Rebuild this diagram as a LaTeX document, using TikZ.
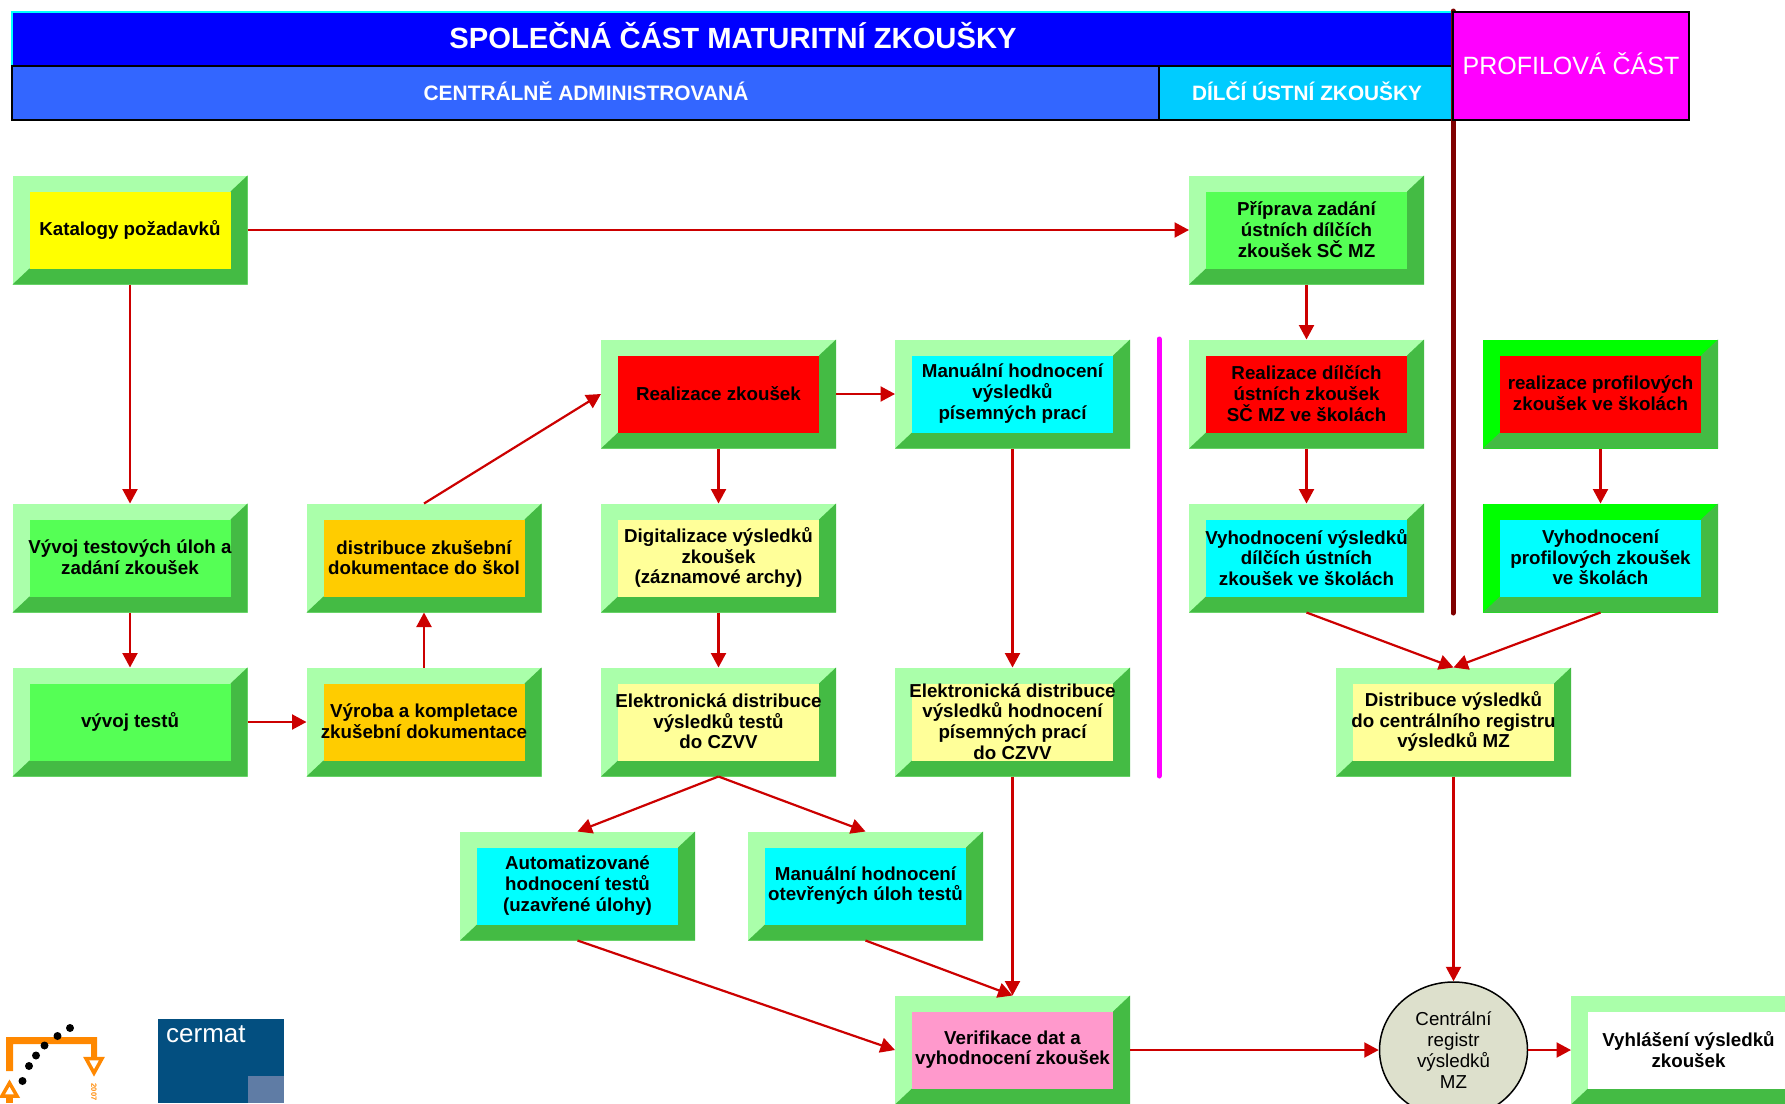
\documentclass[tikz,border=0pt]{standalone}
\usepackage{fontspec}
\setmainfont{Liberation Sans}
\usetikzlibrary{arrows.meta,shapes.geometric}
\definecolor{lite}{RGB}{170,255,170}
\definecolor{brite}{RGB}{0,255,0}
\definecolor{dark}{RGB}{68,187,68}
\definecolor{grn}{RGB}{85,255,85}
\definecolor{org}{RGB}{255,204,0}
\definecolor{pale}{RGB}{255,255,153}
\definecolor{pnk}{RGB}{255,153,204}
\definecolor{arr}{RGB}{204,0,0}
\definecolor{logoorange}{RGB}{255,136,0}
\definecolor{cermatblue}{RGB}{3,79,128}
\definecolor{cermatlite}{RGB}{95,124,165}
\definecolor{pureyellow}{RGB}{255,255,0}
\definecolor{purered}{RGB}{255,0,0}
\definecolor{purecyan}{RGB}{0,255,255}
\definecolor{puremag}{RGB}{255,0,255}
\definecolor{pureblue}{RGB}{0,0,255}
\definecolor{midblue}{RGB}{51,102,255}
\definecolor{skyblue}{RGB}{0,204,255}
\definecolor{maroon}{RGB}{128,0,0}
\definecolor{regfill}{RGB}{221,224,204}
\tikzset{
  boxbase/.style={minimum width=235pt,minimum height=109pt,anchor=north west,inner sep=0pt,outer sep=0pt},
  boxtext/.style={align=center,inner sep=0pt,font=\fontsize{18.75}{20.7}\selectfont\bfseries},
  link/.style={draw=arr,line width=2.2pt,-{Triangle[length=14.5pt,width=15pt]}},
}
% [top-left bevel colour]{name}{x}{y}{face}{text}
\newcommand\bx[6][lite]{%
  \node[boxbase,fill=#1] (#2) at (#3,#4) {};
  \fill[dark] (#3+235,#4) -- (#3+218,#4+16) -- (#3+218,#4+93) -- (#3+17,#4+93) -- (#3,#4+109) -- (#3+235,#4+109) -- cycle;
  \fill[#5] (#3+17,#4+16) rectangle (#3+218,#4+93);
  \node[boxtext] (#2t) at (#3+117.5,#4+54) {#6};
}
\begin{document}
\begin{tikzpicture}[x=1pt,y=-1pt]
\useasboundingbox (0,0) rectangle (1785,1103);
\clip (0,0) rectangle (1785,1103);
\fill[white] (0,0) rectangle (1785,1103);
% header
\draw[draw=purecyan,fill=pureblue,line width=1.5pt] (12,12) rectangle (1453,66);
\node[text=white,font=\fontsize{29.2}{31}\selectfont\bfseries] (h1) at (733,36) {SPOLEČNÁ ČÁST MATURITNÍ ZKOUŠKY};
\draw[fill=midblue,line width=1.5pt] (12,66) rectangle (1159,120);
\node[text=white,font=\fontsize{20.9}{22}\selectfont\bfseries] (h2) at (586,91) {CENTRÁLNĚ ADMINISTROVANÁ};
\draw[fill=skyblue,line width=1.5pt] (1159,66) rectangle (1453,120);
\node[text=white,font=\fontsize{20.8}{22}\selectfont\bfseries] (h3) at (1307,91) {DÍLČÍ ÚSTNÍ ZKOUŠKY};
\draw[draw=maroon,line width=5pt,line cap=round] (1453,11) -- (1453,613);
\draw[fill=puremag,line width=1.5pt] (1453,12) rectangle (1689,120);
\node[text=white,font=\fontsize{25}{27}\selectfont] (h4) at (1571,64) {PROFILOVÁ ČÁST};
\draw[draw=puremag,line width=5pt,line cap=round] (1159,339) -- (1159,776);
% boxes
\bx{kat}{12.5}{175.5}{pureyellow}{Katalogy požadavků}
\bx{prip}{1189}{175.5}{grn}{Příprava zadání\\ústních dílčích\\zkoušek SČ MZ}
\bx{real}{601}{339.5}{purered}{Realizace zkoušek}
\bx{manp}{895}{339.5}{purecyan}{Manuální hodnocení\\výsledků\\písemných prací}
\bx{reald}{1189}{339.5}{purered}{Realizace dílčích\\ústních zkoušek\\SČ MZ ve školách}
\bx[brite]{realp}{1483}{339.5}{purered}{realizace profilových\\zkoušek ve školách}
\bx{vyv}{12.5}{503.5}{grn}{Vývoj testových úloh a\\zadání zkoušek}
\bx{dist}{306.5}{503.5}{org}{distribuce zkušební\\dokumentace do škol}
\bx{dig}{601}{503.5}{pale}{Digitalizace výsledků\\zkoušek\\(záznamové archy)}
\bx{vyhd}{1189}{503.5}{purecyan}{Vyhodnocení výsledků\\dílčích ústních\\zkoušek ve školách}
\bx[brite]{vyhp}{1483}{503.5}{purecyan}{Vyhodnocení\\profilových zkoušek\\ve školách}
\bx{test}{12.5}{667.5}{grn}{vývoj testů}
\bx{vyr}{306.5}{667.5}{org}{Výroba a kompletace\\zkušební dokumentace}
\bx{edt}{601}{667.5}{pale}{Elektronická distribuce\\výsledků testů\\do CZVV}
\bx{edp}{895}{667.5}{pale}{Elektronická distribuce\\výsledků hodnocení\\písemných prací\\do CZVV}
\bx{dvr}{1336}{667.5}{pale}{Distribuce výsledků\\do centrálního registru\\výsledků MZ}
\bx{aut}{460}{831.5}{purecyan}{Automatizované\\hodnocení testů\\(uzavřené úlohy)}
\bx{mano}{748}{831.5}{purecyan}{Manuální hodnocení\\otevřených úloh testů}
\bx{ver}{895}{995.5}{pnk}{Verifikace dat a\\vyhodnocení zkoušek}
\bx{vyh}{1571}{995.5}{white}{Vyhlášení výsledků\\zkoušek}
\node[ellipse,draw=black,line width=1.5pt,fill=regfill,minimum width=148pt,minimum height=136pt,inner sep=0pt,align=center,font=\fontsize{18.75}{21}\selectfont] (reg) at (1453.5,1050) {Centrální\\registr\\výsledků\\MZ};
% connectors
\draw[link] (kat.east) -- (prip.west);
\draw[link] (kat.south) -- (vyv.north);
\draw[link] (prip.south) -- (reald.north);
\draw[link] (reald.south) -- (vyhd.north);
\draw[link] (realp.south) -- (vyhp.north);
\draw[link] (real.east) -- (manp.west);
\draw[link] (real.south) -- (dig.north);
\draw[link] (dig.south) -- (edt.north);
\draw[link] (manp.south) -- (edp.north);
\draw[link] (vyv.south) -- (test.north);
\draw[link] (test.east) -- (vyr.west);
\draw[link] (vyr.north) -- (dist.south);
\draw[link] (dist.north) -- (real.west);
\draw[link] (vyhd.south) -- (dvr.north);
\draw[link] (vyhp.south) -- (dvr.north);
\draw[link] (dvr.south) -- (reg.north);
\draw[link] (edt.south) -- (aut.north);
\draw[link] (edt.south) -- (mano.north);
\draw[link] (aut.south) -- (ver.west);
\draw[link] (mano.south) -- (ver.north);
\draw[link] (edp.south) -- (ver.north);
\draw[link] (ver.east) -- (reg.west);
\draw[link] (reg.east) -- (vyh.west);
% logo 1
\fill[logoorange] (6,1071) -- (6,1037) -- (97,1037) -- (97,1058) -- (91,1058) -- (91,1044) -- (13,1044) -- (13,1071) -- cycle;
\draw[logoorange,line width=3.5pt] (86,1058.5) -- (102,1058.5) -- (94,1073) -- cycle;
\draw[logoorange,line width=3.5pt] (9.5,1083) -- (17,1096) -- (2,1096) -- cycle;
\fill[logoorange] (6,1098) rectangle (13,1103);
\fill[black] (22.5,1081) circle (4) (29,1066) circle (4) (36,1055.5) circle (4) (44.5,1045.5) circle (4) (57.5,1036) circle (4) (70,1028) circle (4);
\node[rotate=-90,text=logoorange,inner sep=0pt,font=\fontsize{7.5}{8}\selectfont\bfseries] (y07) at (94,1092) {2007};
% logo 2
\fill[cermatblue] (158,1019) rectangle (284,1103);
\fill[cermatlite] (248,1076) rectangle (284,1103);
\node[text=white,anchor=base west,inner sep=0pt,font=\fontsize{26}{28}\selectfont] (cer) at (166,1042) {cermat};
\end{tikzpicture}
\end{document}
